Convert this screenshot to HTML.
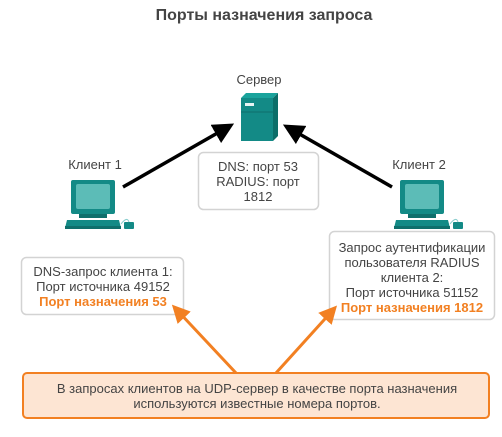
<!DOCTYPE html>
<html><head><meta charset="utf-8"><style>
body{margin:0;width:502px;height:432px;background:#fff;overflow:hidden;font-family:"Liberation Sans","Noto Sans CJK SC",sans-serif;}
</style></head><body>
<svg width="502" height="432" xmlns="http://www.w3.org/2000/svg" font-family="Liberation Sans, Noto Sans CJK SC, sans-serif">
<defs>
<marker id="ab" markerWidth="6" markerHeight="6" refX="4" refY="3" orient="auto" markerUnits="strokeWidth"><path d="M0,0 L6,3 L0,6 Z" fill="#000"/></marker>
<marker id="ao" markerWidth="6" markerHeight="6" refX="4" refY="3" orient="auto" markerUnits="strokeWidth"><path d="M0,0 L6,3 L0,6 Z" fill="#f28022"/></marker>
<g id="pc">
<rect x="6" y="0" width="44" height="34" rx="2" fill="#138a86"/>
<rect x="11" y="4" width="34" height="25" rx="2" fill="#5cbcb7"/>
<rect x="14" y="34" width="28" height="4" fill="#0f6f6c"/>
<path d="M2,40 L54,40 L56,48 L0,48 Z" fill="#138a86"/>
<rect x="0" y="46" width="56" height="3" fill="#0f6f6c"/>
<rect x="59" y="42" width="10" height="7" rx="1" fill="#138a86"/>
<path d="M56,44 Q62,36 64,42" stroke="#8cc" fill="none" stroke-width="1"/>
</g>
</defs>
<text x="264" y="20" font-size="16" font-weight="bold" fill="#444" text-anchor="middle">Порты назначения запроса</text>
<text x="259" y="84" font-size="13" fill="#444" text-anchor="middle">Сервер</text>
<path d="M241,98 L273,98 L278,93 L246,93 Z" fill="#1aa39c"/>
<path d="M273,98 L278,93 L278,136 L273,141 Z" fill="#0c6e69"/>
<rect x="241" y="98" width="32" height="43" fill="#138a86"/>
<rect x="245" y="103" width="9" height="3" fill="#e8f4f4"/>
<line x1="241" y1="112" x2="273" y2="112" stroke="#0f6f6c"/>
<line x1="123" y1="187" x2="228" y2="127" stroke="#000" stroke-width="3.5" marker-end="url(#ab)"/>
<line x1="392" y1="187" x2="289" y2="128" stroke="#000" stroke-width="3.5" marker-end="url(#ab)"/>
<rect x="198.5" y="152.5" width="120" height="57" rx="5" fill="#fff" stroke="#d3d3d3" stroke-width="1.5"/>
<text font-size="13" fill="#444" text-anchor="middle"><tspan x="258" y="171">DNS: порт 53</tspan><tspan x="258" y="186">RADIUS: порт</tspan><tspan x="258" y="201">1812</tspan></text>
<text x="95" y="169" font-size="13" fill="#444" text-anchor="middle">Клиент 1</text>
<use href="#pc" x="65" y="180"/>
<text x="419" y="169" font-size="13" fill="#444" text-anchor="middle">Клиент 2</text>
<use href="#pc" x="394" y="180"/>
<rect x="21.5" y="257.5" width="162" height="57" rx="5" fill="#fff" stroke="#d3d3d3" stroke-width="1.5"/>
<text font-size="13" text-anchor="middle"><tspan x="103" y="276" fill="#444">DNS-запрос клиента 1:</tspan><tspan x="103" y="291" fill="#444">Порт источника 49152</tspan><tspan x="103" y="306" fill="#f28022" font-weight="bold">Порт назначения 53</tspan></text>
<rect x="329.5" y="231.5" width="165" height="88" rx="5" fill="#fff" stroke="#d3d3d3" stroke-width="1.5"/>
<text font-size="13" text-anchor="middle"><tspan x="412" y="252" fill="#444">Запрос аутентификации</tspan><tspan x="412" y="267" fill="#444">пользователя RADIUS</tspan><tspan x="412" y="282" fill="#444">клиента 2:</tspan><tspan x="412" y="297" fill="#444">Порт источника 51152</tspan><tspan x="412" y="312" fill="#f28022" font-weight="bold">Порт назначения 1812</tspan></text>
<line x1="236" y1="373" x2="176" y2="309" stroke="#f28022" stroke-width="3" marker-end="url(#ao)"/>
<line x1="276" y1="373" x2="333" y2="310" stroke="#f28022" stroke-width="3" marker-end="url(#ao)"/>
<rect x="23" y="373" width="466" height="45" rx="4" fill="#fde5d3" stroke="#f28022" stroke-width="2"/>
<text font-size="13" fill="#444" text-anchor="middle"><tspan x="257" y="393">В запросах клиентов на UDP-сервер в качестве порта назначения</tspan><tspan x="257" y="408">используются известные номера портов.</tspan></text>
</svg>
</body></html>
